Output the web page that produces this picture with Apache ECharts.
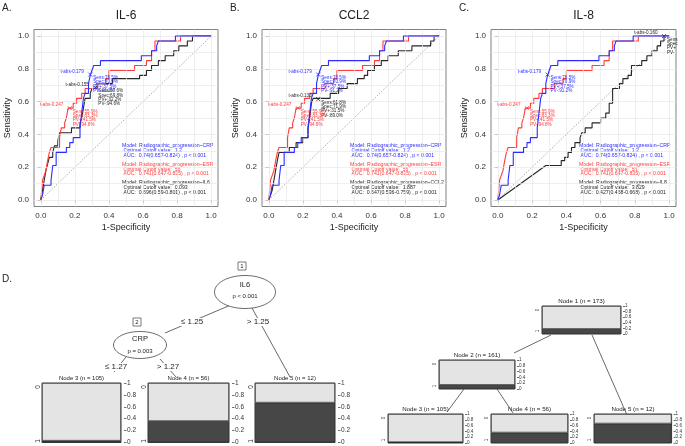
<!DOCTYPE html>
<html><head><meta charset="utf-8">
<script src="https://cdn.jsdelivr.net/npm/echarts@6/dist/echarts.min.js"></script>
<style>html,body{margin:0;padding:0;background:#fff}#c{width:685px;height:446px}</style>
</head><body><div id="c"></div>
<script>
// ---------------- DATA ----------------
const tickValues = [0, 0.2, 0.4, 0.6, 0.8, 1.0];
const gridValues = [0, 0.1, 0.2, 0.3, 0.4, 0.5, 0.6, 0.7, 0.8, 0.9, 1.0];
const panelTitles = ['IL-6', 'CCL2', 'IL-8'];
const panelLetters = ['A.', 'B.', 'C.'];
const markerNames = ['IL6', 'CCL2', 'IL8'];

// ROC curves [1-specificity, sensitivity]
const crpROC = [[0,0],[0.01,0],[0.01,0.03],[0.02,0.03],[0.02,0.09],[0.06,0.09],[0.06,0.12],[0.07,0.12],[0.07,0.21],[0.09,0.21],[0.09,0.29],[0.15,0.29],[0.15,0.32],[0.17,0.32],[0.17,0.35],[0.19,0.35],[0.19,0.38],[0.23,0.38],[0.23,0.44],[0.24,0.44],[0.24,0.53],[0.25,0.53],[0.25,0.62],[0.26,0.62],[0.26,0.65],[0.28,0.65],[0.28,0.71],[0.29,0.71],[0.29,0.76],[0.30,0.76],[0.30,0.79],[0.31,0.79],[0.31,0.82],[0.35,0.82],[0.35,0.85],[0.59,0.85],[0.59,0.88],[0.65,0.88],[0.65,0.91],[0.68,0.91],[0.68,0.94],[0.69,0.94],[0.69,0.97],[0.79,0.97],[0.79,1.0],[1,1]];
const esrROC = [[0,0],[0.01,0],[0.01,0.12],[0.02,0.12],[0.02,0.15],[0.03,0.15],[0.03,0.18],[0.04,0.18],[0.04,0.24],[0.05,0.24],[0.05,0.29],[0.06,0.29],[0.06,0.32],[0.11,0.32],[0.11,0.38],[0.12,0.38],[0.12,0.44],[0.14,0.44],[0.14,0.47],[0.15,0.47],[0.15,0.50],[0.16,0.50],[0.16,0.56],[0.19,0.56],[0.19,0.59],[0.21,0.59],[0.21,0.62],[0.24,0.62],[0.24,0.65],[0.26,0.65],[0.26,0.68],[0.33,0.68],[0.33,0.71],[0.38,0.71],[0.38,0.74],[0.40,0.74],[0.40,0.79],[0.55,0.79],[0.55,0.82],[0.62,0.82],[0.62,0.85],[0.65,0.85],[0.65,0.91],[0.67,0.91],[0.67,0.97],[0.82,0.97],[0.82,1.0],[1,1]];
const il6ROC = [[0,0],[0.01,0],[0.01,0.06],[0.02,0.06],[0.02,0.12],[0.03,0.12],[0.03,0.18],[0.04,0.18],[0.04,0.22],[0.05,0.22],[0.05,0.26],[0.07,0.26],[0.07,0.29],[0.08,0.29],[0.08,0.33],[0.10,0.33],[0.10,0.36],[0.11,0.36],[0.11,0.41],[0.18,0.41],[0.18,0.44],[0.23,0.44],[0.23,0.47],[0.24,0.47],[0.24,0.50],[0.25,0.50],[0.25,0.56],[0.26,0.56],[0.26,0.62],[0.29,0.62],[0.29,0.65],[0.30,0.65],[0.30,0.68],[0.33,0.68],[0.33,0.71],[0.42,0.71],[0.42,0.74],[0.58,0.74],[0.58,0.76],[0.62,0.76],[0.62,0.79],[0.65,0.79],[0.65,0.82],[0.69,0.82],[0.69,0.85],[0.73,0.85],[0.73,0.88],[0.78,0.88],[0.78,0.91],[0.81,0.91],[0.81,0.94],[0.86,0.94],[0.86,0.97],[0.89,0.97],[0.89,1.0],[1,1]];
const ccl2ROC = [[0,0],[0.01,0],[0.01,0.03],[0.02,0.03],[0.02,0.06],[0.03,0.06],[0.03,0.12],[0.04,0.12],[0.04,0.18],[0.05,0.18],[0.05,0.24],[0.06,0.24],[0.06,0.29],[0.12,0.29],[0.12,0.32],[0.16,0.32],[0.16,0.35],[0.20,0.35],[0.20,0.38],[0.23,0.38],[0.23,0.44],[0.24,0.44],[0.24,0.50],[0.25,0.50],[0.25,0.59],[0.26,0.59],[0.26,0.62],[0.36,0.62],[0.36,0.65],[0.41,0.65],[0.41,0.68],[0.46,0.68],[0.46,0.71],[0.52,0.71],[0.52,0.74],[0.56,0.74],[0.56,0.76],[0.58,0.76],[0.58,0.79],[0.62,0.79],[0.62,0.82],[0.66,0.82],[0.66,0.85],[0.70,0.85],[0.70,0.88],[0.76,0.88],[0.76,0.91],[0.84,0.91],[0.84,0.94],[0.95,0.94],[0.95,0.97],[0.97,0.97],[0.97,1.0],[1,1]];
const il8ROC = [[0,0],[0.28,0.21],[0.37,0.21],[0.37,0.24],[0.39,0.24],[0.39,0.26],[0.41,0.26],[0.41,0.29],[0.43,0.29],[0.43,0.32],[0.45,0.32],[0.45,0.35],[0.48,0.35],[0.48,0.38],[0.49,0.38],[0.49,0.41],[0.51,0.41],[0.51,0.44],[0.55,0.44],[0.55,0.47],[0.60,0.47],[0.60,0.50],[0.63,0.50],[0.63,0.53],[0.65,0.53],[0.65,0.59],[0.67,0.59],[0.67,0.68],[0.71,0.68],[0.71,0.71],[0.73,0.71],[0.73,0.74],[0.76,0.74],[0.76,0.76],[0.78,0.76],[0.78,0.82],[0.84,0.82],[0.84,0.85],[0.87,0.85],[0.87,0.88],[0.90,0.88],[0.90,0.91],[0.93,0.91],[0.93,0.94],[0.95,0.94],[0.95,0.97],[0.97,0.97],[0.97,1.0],[1,1]];
const blackROCs = [il6ROC, ccl2ROC, il8ROC];

// optimal cut-off points
const crpCut = [0.29, 0.765];
const esrCut = [0.17, 0.56];
const blackCuts = [[0.32, 0.685], [0.29, 0.615], [0.97, 1.0]];
const crpCutLabel = 't-abs-0.179';
const esrCutLabel = 't-abs-0.247';
const blackCutLabels = ['t-abs-0.155', 't-abs-0.133', 't-abs-0.160'];
const crpCutStats = ['Sens:76.5%', 'Spec:70.9%', 'PV+:37.5%', 'PV-:91.2%'];
const esrCutStats = ['Sens:55.9%', 'Spec:83.3%', 'PV+:41.5%', 'PV-:94.8%'];
const blackCutStats = [
  ['Sens:67.6%', 'Spec:69.8%', 'PV+:32.2%', 'PV-:94.6%'],
  ['Sens:61.8%', 'Spec:71.9%', 'PV+:31.5%', 'PV-:89.0%'],
  ['Sens', 'Spec', 'PV+', 'PV-']
];

// model summaries
const crpModel = ['Model: Radiographic_progression~CRP', ' Optimal Cutoff value:  1.2', ' AUC:  0.74(0.657-0.824) , p < 0.001'];
const esrModel = ['Model: Radiographic_progression~ESR', ' Optimal Cutoff value:  55', ' AUC:  0.741(0.647-0.835) , p < 0.001'];
const blackModels = [
  ['Model: Radiographic_progression~IL6', ' Optimal Cutoff value:  0.093', ' AUC:  0.696(0.59-0.801) , p < 0.001'],
  ['Model: Radiographic_progression~CCL2', ' Optimal Cutoff value:  1.887', ' AUC:  0.647(0.536-0.759) , p < 0.001'],
  ['Model: Radiographic_progression~IL8', ' Optimal Cutoff value:  3.829', ' AUC:  0.427(0.458-0.668) , p < 0.001']
];

// decision tree terminal / inner nodes
const leftNodeNames = ['Node 3', 'Node 4', 'Node 5'];
const leftNodeN = [105, 56, 12];
const leftNodeProgress = [0.03, 0.36, 0.67];
const rightNodeNames = ['Node 1', 'Node 2', 'Node 3', 'Node 4', 'Node 5'];
const rightNodeN = [173, 161, 105, 56, 12];
const rightNodeProgress = [0.18, 0.14, 0.03, 0.36, 0.67];
const splitLabels = ['\u2264 1.25', '> 1.25', '\u2264 1.27', '> 1.27'];

// ---------------- LAYOUT ----------------
const FONT = '"Liberation Sans", Arial, sans-serif';
const BLUE = '#2b2bff', RED = '#ff3b3b', BLACK = '#262626';
const rocGrids = [
  {left: 34, top: 29.5, width: 184, height: 177},
  {left: 262, top: 29.5, width: 184, height: 177},
  {left: 491, top: 29.5, width: 185, height: 177}
];
const leftBoxes = [
  {left: 42, top: 383, width: 79, height: 61},
  {left: 148, top: 383, width: 81, height: 61},
  {left: 255, top: 383, width: 80, height: 61}
];
const rightBoxes = [
  {left: 542, top: 306, width: 79, height: 28},
  {left: 439, top: 360, width: 76, height: 29},
  {left: 388, top: 414, width: 75, height: 29},
  {left: 491, top: 414, width: 77, height: 29},
  {left: 594, top: 414, width: 78, height: 29}
];

const grids = [], xAxes = [], yAxes = [], series = [], graphics = [];
const crossPath = 'path://M0,0L10,10M10,0L0,10';

function txt(x, y, text, size, color, extra) {
  graphics.push(Object.assign({type: 'text', x: x, y: y, silent: true,
    style: Object.assign({text: text, fontSize: size, fill: color || '#222', fontFamily: FONT,
      textAlign: 'center', textVerticalAlign: 'middle'}, (extra && extra.style) || {})},
    extra && extra.rotation ? {rotation: extra.rotation} : {}));
}
function line(x1, y1, x2, y2) {
  graphics.push({type: 'line', silent: true, shape: {x1, y1, x2, y2}, style: {stroke: '#444', lineWidth: 0.8}});
}

function cutMarks(pt, color, tabLabel, stats) {
  return {
    symbol: crossPath, symbolSize: 4, silent: true, animation: false,
    itemStyle: {color: 'none', borderColor: color, borderWidth: 0.8},
    data: [
      {coord: pt, label: {show: true, formatter: tabLabel, position: 'left', distance: 2, offset: [0, -3],
        fontSize: 4.6, color: color, fontFamily: FONT}},
      {coord: pt, symbolSize: 0, label: {show: true, formatter: stats.join('\n'), position: [3, 1],
        align: 'left', verticalAlign: 'top', fontSize: 4.6, lineHeight: 4.4, color: color, fontFamily: FONT}}
    ]
  };
}

rocGrids.forEach((g, i) => {
  grids.push({left: g.left, top: g.top, width: g.width, height: g.height, show: true,
    borderColor: '#808080', borderWidth: 1, backgroundColor: 'transparent'});
  xAxes.push({type: 'value', gridIndex: i, min: -0.04, max: 1.04,
    axisLine: {show: false}, splitLine: {show: false},
    axisTick: {show: true, customValues: tickValues, length: 3, lineStyle: {color: '#555', width: 0.8}},
    axisLabel: {customValues: tickValues, formatter: v => v.toFixed(1), fontSize: 8, color: '#333', margin: 5, fontFamily: FONT},
    name: '1-Specificity', nameLocation: 'middle', nameGap: 17,
    nameTextStyle: {fontSize: 9, color: '#222', fontFamily: FONT}});
  yAxes.push({type: 'value', gridIndex: i, min: -0.04, max: 1.04,
    axisLine: {show: false}, splitLine: {show: false},
    axisTick: {show: true, customValues: tickValues, length: 3, lineStyle: {color: '#555', width: 0.8}},
    axisLabel: {customValues: tickValues, formatter: v => v.toFixed(1), fontSize: 8, color: '#333', margin: 5, fontFamily: FONT},
    name: 'Sensitivity', nameLocation: 'middle', nameGap: 22,
    nameTextStyle: {fontSize: 9, color: '#222', fontFamily: FONT}});
  // diagonal + grid lines
  series.push({type: 'line', xAxisIndex: i, yAxisIndex: i, data: [[0, 0], [1, 1]], symbol: 'none',
    silent: true, animation: false, z: 1,
    lineStyle: {color: '#8a8a8a', width: 0.7, type: [1.5, 1.5]},
    markLine: {silent: true, animation: false, symbol: ['none', 'none'], label: {show: false},
      lineStyle: {type: 'solid', color: '#e8e8e8', width: 0.7},
      data: gridValues.map(v => ({xAxis: v})).concat(gridValues.map(v => ({yAxis: v})))}});
  series.push({type: 'line', xAxisIndex: i, yAxisIndex: i, data: blackROCs[i], symbol: 'none', z: 3,
    animation: false, silent: true, lineStyle: {color: BLACK, width: 1.1},
    markPoint: cutMarks(blackCuts[i], BLACK, blackCutLabels[i], blackCutStats[i])});
  series.push({type: 'line', xAxisIndex: i, yAxisIndex: i, data: esrROC, symbol: 'none', z: 4,
    animation: false, silent: true, lineStyle: {color: RED, width: 1.1},
    markPoint: cutMarks(esrCut, RED, esrCutLabel, esrCutStats)});
  series.push({type: 'line', xAxisIndex: i, yAxisIndex: i, data: crpROC, symbol: 'none', z: 5,
    animation: false, silent: true, lineStyle: {color: BLUE, width: 1.1},
    markPoint: cutMarks(crpCut, BLUE, crpCutLabel, crpCutStats)});

  // titles & panel letters
  txt(g.left + g.width / 2, 16, panelTitles[i], 12, '#222');
  txt(g.left - 32, 8, panelLetters[i], 10, '#222', {style: {textAlign: 'left'}});
  // model text blocks
  const bx = g.left + 88, by = 146;
  [[crpModel, BLUE, 0], [esrModel, RED, 18.5], [blackModels[i], BLACK, 37]].forEach(([lines, col, dy]) => {
    lines.forEach((l, k) => txt(bx, by + dy + k * 4.7, l, 5.2, col, {style: {textAlign: 'left'}}));
  });
});

function nodeBar(box, p, gi, small) {
  grids.push({left: box.left, top: box.top, width: box.width, height: box.height, show: true,
    borderColor: '#222', borderWidth: 0.8});
  xAxes.push({type: 'category', gridIndex: gi, data: ['n'], show: false});
  yAxes.push({type: 'value', gridIndex: gi, min: 0, max: 1, interval: 0.2, position: 'right',
    offset: small ? 2 : 3, splitLine: {show: false}, axisLine: {show: false},
    axisTick: {show: true, length: small ? 2 : 2.5, lineStyle: {color: '#333', width: 0.7}},
    axisLabel: {fontSize: small ? 4.6 : 6.5, color: '#333', margin: small ? 2 : 3, fontFamily: FONT}});
  series.push({type: 'bar', xAxisIndex: gi, yAxisIndex: gi, stack: 's' + gi, data: [p], barWidth: '100%',
    animation: false, silent: true, itemStyle: {color: '#474747', borderColor: '#222', borderWidth: 0.7}});
  series.push({type: 'bar', xAxisIndex: gi, yAxisIndex: gi, stack: 's' + gi, data: [+(1 - p).toFixed(2)], barWidth: '100%',
    animation: false, silent: true, itemStyle: {color: '#e4e4e4', borderColor: '#222', borderWidth: 0.7}});
  const fs = small ? 4.6 : 6.5;
  txt(box.left - 4, box.top + 4, '0', fs, '#333', {rotation: Math.PI / 2});
  txt(box.left - 4, box.top + box.height - 3, '1', fs, '#333', {rotation: Math.PI / 2});
}

let gi = 3;
leftBoxes.forEach((b, k) => {
  nodeBar(b, leftNodeProgress[k], gi++, false);
  txt(b.left + b.width / 2, b.top - 4.5, leftNodeNames[k] + ' (n = ' + leftNodeN[k] + ')', 6, '#222');
});
rightBoxes.forEach((b, k) => {
  nodeBar(b, rightNodeProgress[k], gi++, true);
  txt(b.left + b.width / 2, b.top - 5, rightNodeNames[k] + ' (n = ' + rightNodeN[k] + ')', 6.2, '#222');
});

// ---- left tree structure ----
txt(2, 279, 'D.', 10, '#222', {style: {textAlign: 'left'}});
line(233, 304, 165, 333);
line(252, 308, 290, 377);
line(126, 357, 114, 372);
line(160, 359, 176, 377);
graphics.push({type: 'ellipse', silent: true, shape: {cx: 245, cy: 292, rx: 30.5, ry: 16.5}, style: {fill: '#fff', stroke: '#444', lineWidth: 0.8}});
graphics.push({type: 'ellipse', silent: true, shape: {cx: 140, cy: 345, rx: 26.5, ry: 13.5}, style: {fill: '#fff', stroke: '#444', lineWidth: 0.8}});
graphics.push({type: 'rect', silent: true, shape: {x: 238, y: 262, width: 8, height: 8}, style: {fill: '#fff', stroke: '#444', lineWidth: 0.7}});
graphics.push({type: 'rect', silent: true, shape: {x: 133, y: 318, width: 8, height: 8}, style: {fill: '#fff', stroke: '#444', lineWidth: 0.7}});
txt(242, 266.5, '1', 6, '#222');
txt(137, 322.5, '2', 6, '#222');
txt(245, 285, markerNames[0], 7.5, '#222');
txt(245, 296, 'p < 0.001', 6, '#222');
txt(140, 339, 'CRP', 7.5, '#222');
txt(140, 351, 'p = 0.003', 6, '#222');
// split labels with white background
[[192, 322, 0], [258, 322, 1], [116, 367, 2], [168, 367, 3]].forEach(([x, y, k]) =>
  txt(x, y, splitLabels[k], 8, '#222', {style: {backgroundColor: '#fff', padding: [0, 1]}}));

// ---- right tree structure ----
line(551, 335, 514, 353);
line(592, 335, 627, 415);
line(464, 389, 447, 412);
line(497, 389, 513, 413);

const option = {
  animation: false,
  backgroundColor: '#fff',
  textStyle: {fontFamily: FONT},
  grid: grids, xAxis: xAxes, yAxis: yAxes, series: series,
  graphic: graphics
};
const chart = echarts.init(document.getElementById('c'), null, {renderer: 'canvas', width: 685, height: 446});
chart.setOption(option);
</script></body></html>
